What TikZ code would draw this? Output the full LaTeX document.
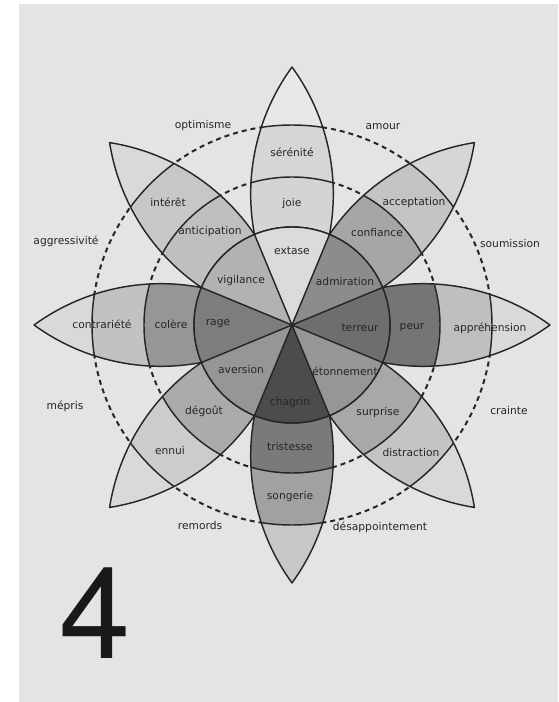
\documentclass[tikz,border=0pt]{standalone}
\usepackage{fontspec}
\setmainfont{DejaVu Sans}
\newfontfamily\digitfont{TeX Gyre Heros}
\definecolor{paper}{gray}{0.893}
\definecolor{linec}{gray}{0.15}
\definecolor{labc}{gray}{0.15}
\tikzset{
  lab/.style={font=\fontsize{10.7}{12}\selectfont, text=labc, inner sep=0pt},
  outl/.style={draw=linec, line width=1.45pt, line join=round},
  dashcirc/.style={draw=linec, line width=2pt, dash pattern=on 5pt off 4pt},
}
\def\petalpath{(67.5:98) arc[start angle=-10.8, end angle=36.05, radius=215.8]
  arc[start angle=143.95, end angle=190.8, radius=215.8]
  arc[start angle=112.5, end angle=67.5, radius=98] -- cycle}
\begin{document}
\begin{tikzpicture}[x=1pt,y=1pt]
\useasboundingbox (-292,-377) rectangle (266,325);
\fill[white] (-292,-377) rectangle (266,325);
\fill[paper] (-273,-377) rectangle (266,321);
% dashed circles
\draw[dashcirc] (0,0) coordinate (c) circle[radius=148];
\draw[dashcirc] (c) circle[radius=200];
% petals: k / inner / band2 / band3 / tip (black percentages)
\foreach \k/\ga/\gb/\gc/\gd in {0/14/17/16/9, 1/45/35/23/16, 2/57/54/25/15, 3/41/34/23/15,
  4/70/52/37/22, 5/41/33/20/15, 6/51/41/24/15, 7/30/25/22/15}{
  \begin{scope}[rotate=-45*\k]
    \begin{scope}
      \clip \petalpath;
      \fill[black!\gd] \petalpath;
      \fill[black!\gc] (c) circle[radius=200];
      \fill[black!\gb] (c) circle[radius=148];
      \draw[outl] (c) circle[radius=148];
      \draw[outl] (c) circle[radius=200];
    \end{scope}
    \draw[outl] \petalpath;
    \fill[black!\ga] (c) -- (67.5:98) arc[start angle=67.5, end angle=112.5, radius=98] -- cycle;
  \end{scope}
}
% radial lines and inner circle
\foreach \a in {22.5,67.5,...,337.5}{
  \draw[outl] (c) -- (\a:98);
}
\draw[outl] (c) circle[radius=98];
% labels
\node[lab] (serenite) at (0,173) {sérénité};
\node[lab] (joie) at (0,121) {joie};
\node[lab] (extase) at (0,74) {extase};
\node[lab] (interet) at (-124,123) {intérêt};
\node[lab] (anticipation) at (-82,93) {anticipation};
\node[lab] (vigilance) at (-51,44) {vigilance};
\node[lab] (acceptation) at (122,122) {acceptation};
\node[lab] (confiance) at (85,92) {confiance};
\node[lab] (admiration) at (53,43) {admiration};
\node[lab] (contrariete) at (-190,1) {contrariété};
\node[lab] (colere) at (-121,1) {colère};
\node[lab] (rage) at (-74,1) {rage};
\node[lab] (terreur) at (68,-3) {terreur};
\node[lab] (peur) at (120,-3) {peur};
\node[lab] (apprehension) at (198,-3) {appréhension};
\node[lab] (aversion) at (-51,-45) {aversion};
\node[lab] (degout) at (-88,-86) {dégoût};
\node[lab] (ennui) at (-122,-126) {ennui};
\node[lab] (etonnement) at (53,-46) {étonnement};
\node[lab] (surprise) at (86,-88) {surprise};
\node[lab] (distraction) at (119,-128) {distraction};
\node[lab] (chagrin) at (-2,-78) {chagrin};
\node[lab] (tristesse) at (-2,-122) {tristesse};
\node[lab] (songerie) at (-2,-172) {songerie};
\node[lab] (optimisme) at (-89,199) {optimisme};
\node[lab] (amour) at (91,198) {amour};
\node[lab] (aggressivite) at (-226,84) {aggressivité};
\node[lab] (soumission) at (218,81) {soumission};
\node[lab] (mepris) at (-227,-81) {mépris};
\node[lab] (crainte) at (217,-86) {crainte};
\node[lab] (remords) at (-92,-201) {remords};
\node[lab] (desappointement) at (88,-202) {désappointement};
% big number
\node[inner sep=0pt, text=black!90, font=\digitfont\fontsize{128}{128}\selectfont] (four) at (-197,-288) {4};
\end{tikzpicture}
\end{document}
